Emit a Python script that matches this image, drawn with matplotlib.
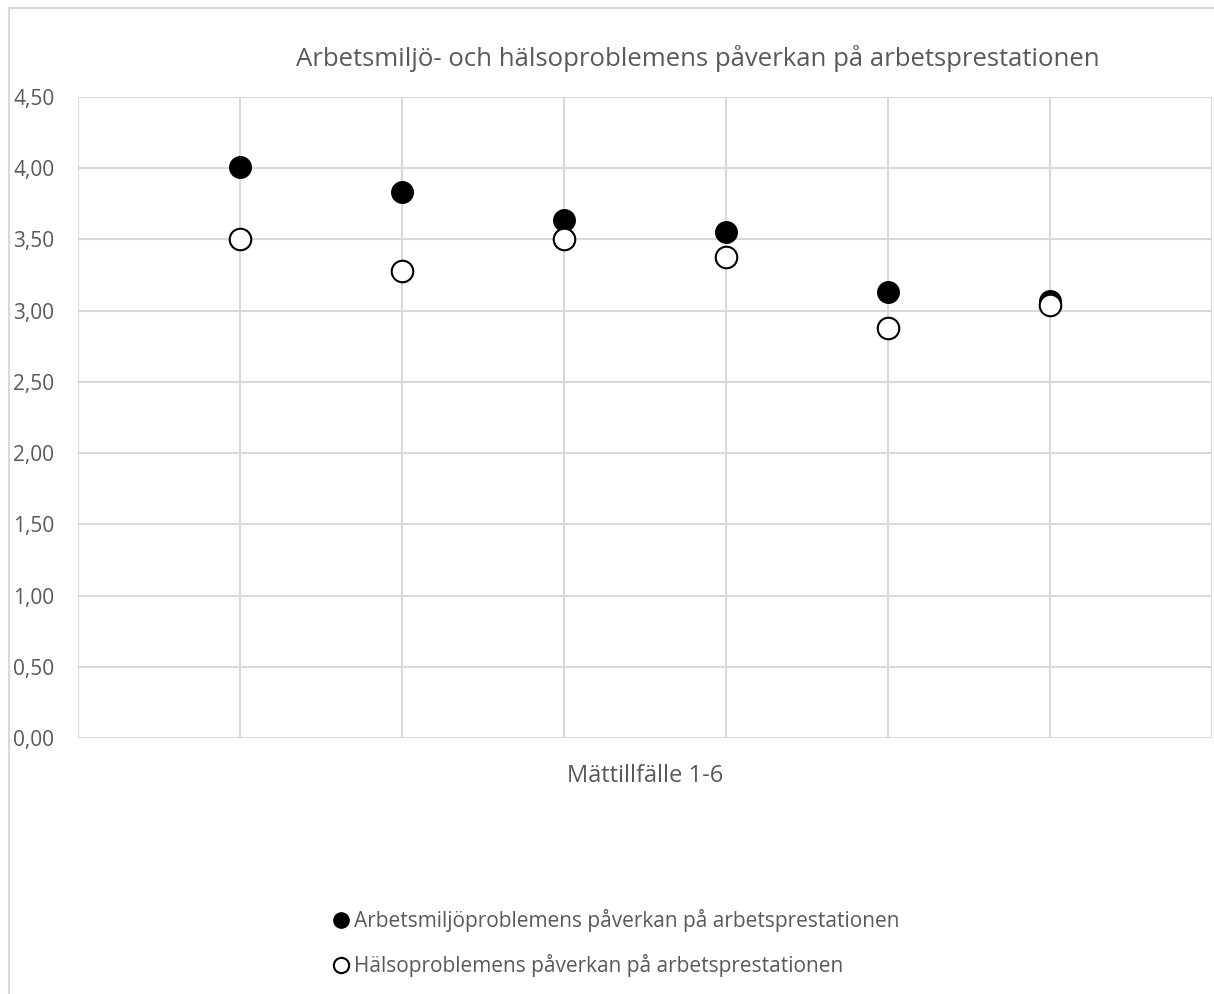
import matplotlib.pyplot as plt
from matplotlib.lines import Line2D

# Mätvärden per mättillfälle (1-6)
occasions = [1, 2, 3, 4, 5, 6]
arbetsmiljo = [4.01, 3.83, 3.64, 3.55, 3.13, 3.07]
halsa = [3.50, 3.28, 3.50, 3.38, 2.88, 3.04]

series_names = ["Arbetsmiljöproblemens påverkan på arbetsprestationen",
                "Hälsoproblemens påverkan på arbetsprestationen"]
title = "Arbetsmiljö- och hälsoproblemens påverkan på arbetsprestationen"
xlabel = "Mättillfälle 1-6"
yticks = [0.0, 0.5, 1.0, 1.5, 2.0, 2.5, 3.0, 3.5, 4.0, 4.5]

plt.rcParams['font.family'] = ['Open Sans', 'DejaVu Sans']
text_color = '#595959'
grid_color = '#d9d9d9'

W, H = 1214, 994
fig = plt.figure(figsize=(W / 100, H / 100), dpi=100)

# ram runt diagramområdet
fig.add_artist(Line2D([9 / W, 9 / W], [0, 1 - 8 / H], color=grid_color, lw=1.5))
fig.add_artist(Line2D([9 / W, 1], [1 - 8 / H, 1 - 8 / H], color=grid_color, lw=1.5))

ax = fig.add_axes([78 / W, 1 - 738 / H, (1212 - 78) / W, (738 - 97) / H])
ax.set_xlim(0, 7)
ax.set_ylim(0, 4.5)
ax.set_xticks(range(0, 8))
ax.set_yticks(yticks)
ax.set_xticklabels([])
ax.set_yticklabels([f"{v:.2f}".replace('.', ',') for v in yticks])
ax.tick_params(length=0, labelsize=15, colors=text_color)
ax.tick_params(axis='y', pad=17)
ax.grid(True, color=grid_color, lw=1.5)
ax.set_axisbelow(True)
for s in ax.spines.values():
    s.set_visible(False)

ax.plot(occasions, arbetsmiljo, 'o', ms=15.5, color='black', mec='black', zorder=3)
ax.plot(occasions, halsa, 'o', ms=15.5, mfc='white', mec='black', mew=1.5, zorder=3)

fig.text(698 / W, 1 - 58 / H, title, ha='center', va='center', fontsize=18.5, color=text_color)
fig.text(645 / W, 1 - 776 / H, xlabel, ha='center', va='center', fontsize=17, color=text_color)

handles = [Line2D([], [], ls='', marker='o', ms=11, color='black'),
           Line2D([], [], ls='', marker='o', ms=11, mfc='white', mec='black', mew=1.5)]
fig.legend(handles, series_names, loc='upper left', bbox_to_anchor=(333 / W, 1 - 909 / H),
           frameon=False, fontsize=15, labelcolor=text_color, handlelength=0.8,
           handletextpad=0.2, labelspacing=1.05, borderpad=0, borderaxespad=0)

fig.savefig('out.png', dpi=100)
